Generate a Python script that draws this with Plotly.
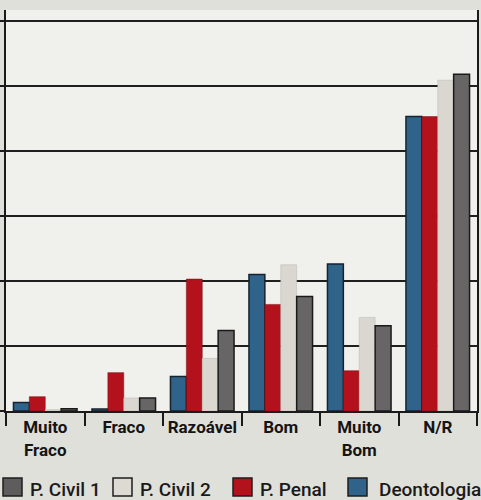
import plotly.graph_objects as go

categories = ["Muito<br>Fraco", "Fraco", "Razoável", "Bom", "Muito<br>Bom", "N/R"]
deontologia = [1.3, 0.3, 5.3, 21.0, 22.6, 45.3]
p_penal = [2.2, 5.9, 20.3, 16.4, 6.2, 45.3]
p_civil_2 = [0.2, 2.0, 8.1, 22.5, 14.4, 50.9]
p_civil_1 = [0.35, 2.0, 12.4, 17.6, 13.1, 51.8]
y_ticks = [0, 10, 20, 30, 40, 50, 60]

series = [
    ("Deontologia", deontologia, "#2f6389", "#16222c", 1.5),
    ("P. Penal", p_penal, "#b3121c", "#7a0c12", 0.5),
    ("P. Civil 2", p_civil_2, "#d9d7cf", "#b8b6ae", 0.5),
    ("P. Civil 1", p_civil_1, "#676565", "#1a1a1a", 1.5),
]

W, H = 481, 500
L, R, T, B = 6, 4, 10, 89
pw, ph = W - L - R, H - T - B


def px_x(p):
    return (p - L) / pw


def px_y(p):
    return (H - B - p) / ph


fig = go.Figure()
for name, vals, col, lc, lw in series:
    fig.add_trace(go.Bar(
        name=name, x=categories, y=vals, showlegend=False,
        marker=dict(color=col, line=dict(color=lc, width=lw)),
    ))

# custom legend (pixel positions)
legend_items = [
    ("P. Civil 1", "#5e5c5c", 3, 28),
    ("P. Civil 2", "#dcdad2", 113, 138),
    ("P. Penal", "#b3121c", 233, 258),
    ("Deontologia", "#2f6389", 348, 377),
]
shapes = []
annotations = []
for label, col, sx, tx in legend_items:
    shapes.append(dict(
        type="rect", xref="paper", yref="paper",
        x0=px_x(sx), x1=px_x(sx + 19), y0=px_y(496), y1=px_y(478),
        fillcolor=col, line=dict(color="#1e1e1e", width=1.5),
    ))
    annotations.append(dict(
        text=label, xref="paper", yref="paper", x=px_x(tx), y=px_y(489),
        xanchor="left", yanchor="middle", showarrow=False,
        font=dict(size=19, family="Roboto, DejaVu Sans, sans-serif", weight=500, color="#1a1a1a"),
    ))

fig.update_layout(
    width=W, height=H,
    barmode="group", bargap=0.19, bargroupgap=0,
    paper_bgcolor="#e0e0da", plot_bgcolor="#f0f0ed",
    margin=dict(l=L, r=R, t=T, b=B, autoexpand=False),
    font=dict(family="Roboto, DejaVu Sans, sans-serif", color="#1a1a1a"),
    showlegend=False,
    shapes=shapes, annotations=annotations,
)
fig.update_xaxes(
    type="category", tickson="boundaries", ticks="outside", ticklen=13,
    tickwidth=2, tickcolor="#1a1a1a", automargin=False, tickangle=0,
    showline=True, linecolor="#1a1a1a", linewidth=2,
    tickfont=dict(size=17, family="Roboto, DejaVu Sans, sans-serif", weight="bold", color="#141414"),
    showgrid=False,
)
fig.update_yaxes(
    range=[0, 61.7], tickvals=y_ticks, showticklabels=False, automargin=False,
    ticks="outside", ticklen=6, tickwidth=2, tickcolor="#1a1a1a",
    showgrid=True, gridcolor="#1f1f1f", gridwidth=1.6,
    showline=True, linecolor="#1a1a1a", linewidth=2, mirror=True,
    zeroline=False,
)

fig.write_html(
    "out.html",
    config={"displayModeBar": False},
    post_script="document.body.style.margin='0px';document.body.style.overflow='hidden';",
)
